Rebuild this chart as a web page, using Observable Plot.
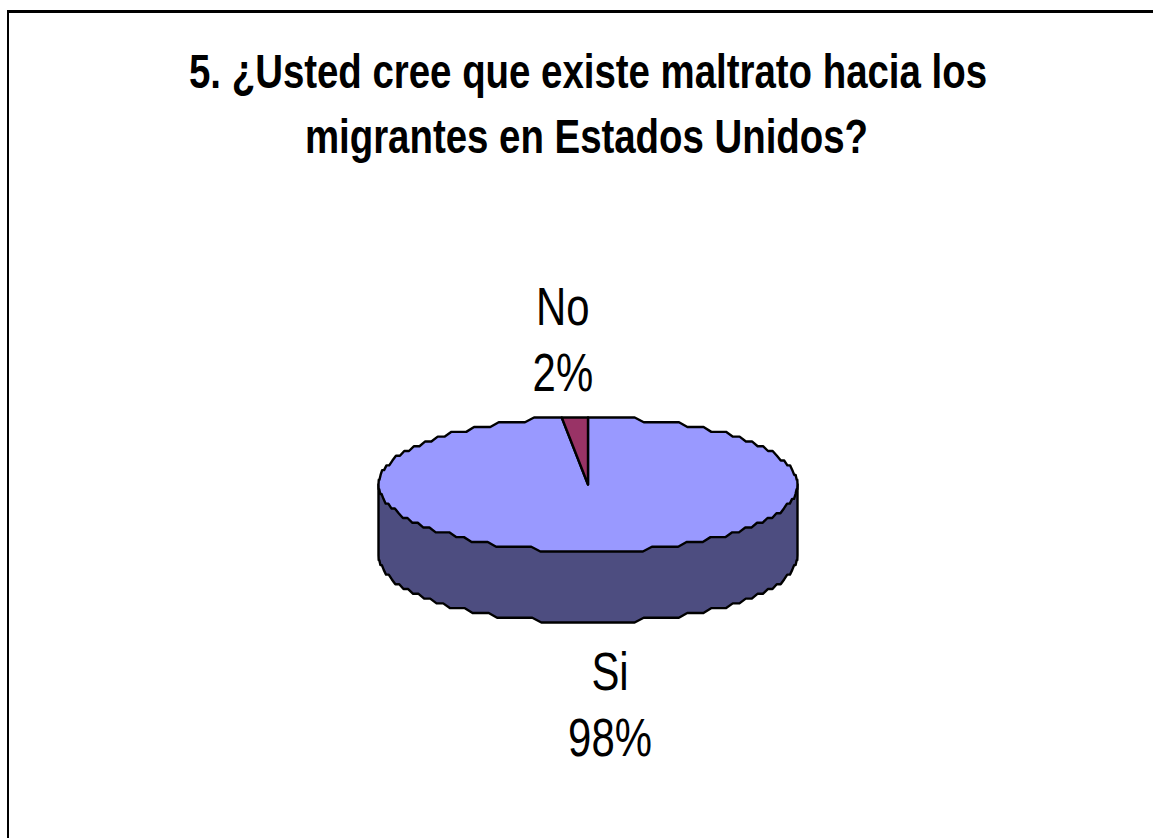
<!DOCTYPE html>
<html><head><meta charset="utf-8">
<script src="https://cdn.jsdelivr.net/npm/d3@7"></script>
<script src="https://cdn.jsdelivr.net/npm/@observablehq/plot@0.6"></script>
<style>
html,body{margin:0;padding:0;background:#fff;overflow:hidden}
#chart{position:relative;width:1153px;height:838px}
#chart svg{position:absolute;left:0;top:0;overflow:visible}
</style></head><body><div id="chart"></div>
<script>
const categories = ["Si", "No"];
const percents = [98, 2];
const colors = ["#9999ff", "#993366"];
const sideColor = "#4d4d80";
const titleLines = ["5. ¿Usted cree que existe maltrato hacia los", "migrantes en Estados Unidos?"];
const depth = 1.06;

const xRange = [378, 797], yRange = [551, 417];
const gy = 1 / 14;
const snap = (v, g) => Math.round(v / g) * g;
const start = -2 * Math.PI * percents[1] / 100;
const ell = (a, dy = 0) => ({x: Math.sin(a), y: snap(Math.cos(a), gy) - dy});
const arc = (a0, a1, dy = 0) => {
  const n = Math.max(1, Math.round(Math.abs(a1 - a0) / (2 * Math.PI) * 140));
  return d3.range(n + 1).map(i => ell(a0 + (a1 - a0) * i / n, dy));
};
const center = {x: 0, y: 0};
const topSi = [center, ...arc(0, 2 * Math.PI + start), center];
const topNo = [center, ...arc(start, 0), center];
const side = [{x: 1, y: 0}, {x: -1, y: 0}, ...arc(3 * Math.PI / 2, Math.PI / 2, depth), {x: 1, y: 0}];

const ink = "#000";
const labels = [
  {text: categories[1], x: -0.12, y: 2.63},
  {text: percents[1] + "%", x: -0.12, y: 1.65},
  {text: categories[0], x: 0.105, y: -2.82},
  {text: percents[0] + "%", x: 0.105, y: -3.8}
];
const lineStyle = {x: "x", y: "y", stroke: ink, strokeWidth: 2.4, strokeLinejoin: "round", curve: "linear"};
const squeeze = (k) => (index, scales, values, dims, context, next) => {
  const g = next(index, scales, values, dims, context);
  g.querySelectorAll("text").forEach(t => t.setAttribute("transform", (t.getAttribute("transform") || "") + ` scale(${k},1)`));
  return g;
};
const titleStyle = {text: d => d, frameAnchor: "top-left", fontSize: 48, fontWeight: "bold", fill: ink, fontFamily: "Liberation Sans", textAnchor: "middle", lineAnchor: "middle", render: squeeze(0.8)};
const chart = Plot.plot({
  width: 1153, height: 838, margin: 0,
  x: {domain: [-1, 1], range: xRange, axis: null},
  y: {domain: [-1, 1], range: yRange, axis: null},
  marks: [
    Plot.line(side, {...lineStyle, fill: sideColor}),
    Plot.line(topSi, {...lineStyle, fill: colors[0]}),
    Plot.line(topNo, {...lineStyle, fill: colors[1]}),
    Plot.text(labels, {x: "x", y: "y", text: "text", fontSize: 53, fill: ink, fontFamily: "Liberation Sans", textAnchor: "middle", lineAnchor: "middle", render: squeeze(0.79)}),
    Plot.text([titleLines[0]], {...titleStyle, dx: 587.5, dy: 72}),
    Plot.text([titleLines[1]], {...titleStyle, dx: 586, dy: 137})
  ]
});
document.getElementById("chart").appendChild(chart);
const frame = document.createElement("div");
frame.style.cssText = "position:absolute;left:7px;top:10px;width:1200px;height:900px;border-left:2px solid #000;border-top:3px solid #000;box-sizing:border-box";
document.getElementById("chart").appendChild(frame);
</script></body></html>
